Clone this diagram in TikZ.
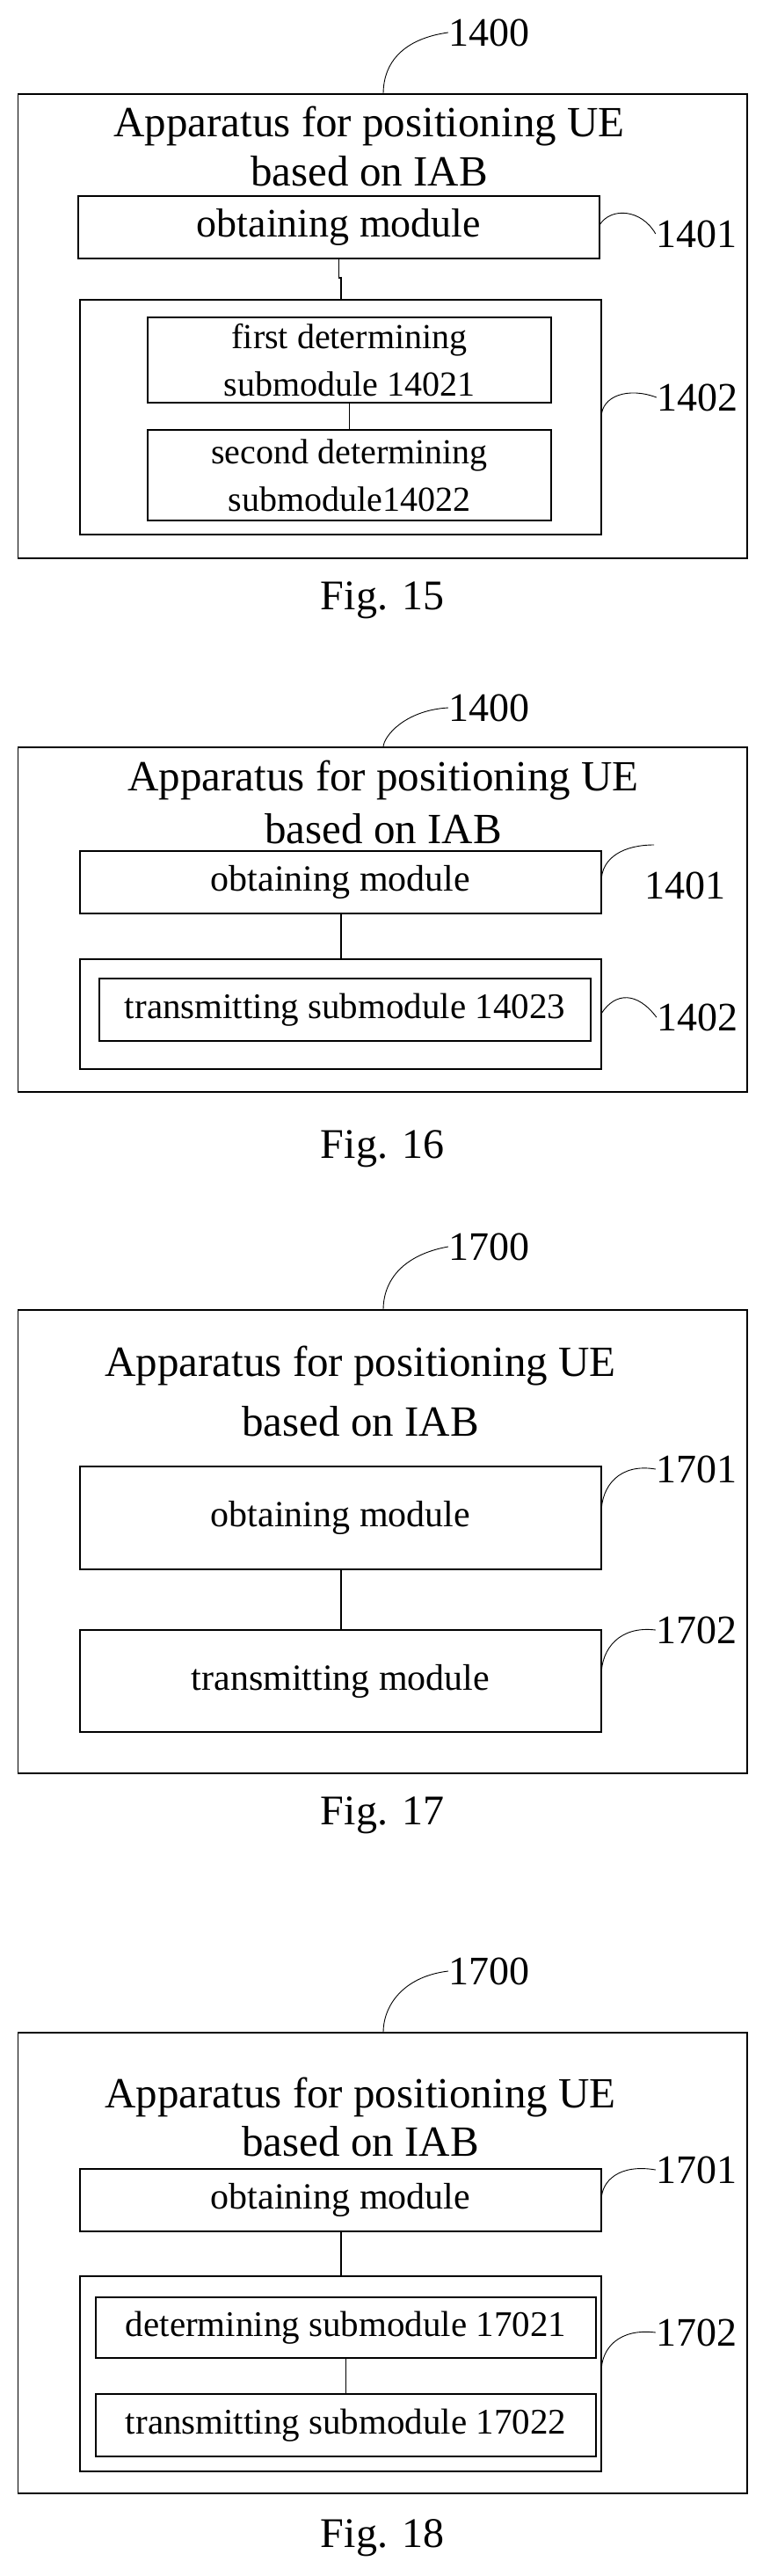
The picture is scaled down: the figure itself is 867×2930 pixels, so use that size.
\documentclass[tikz,border=0pt]{standalone}
\usepackage{fontspec}
\setmainfont{Liberation Serif}
\tikzset{
  box/.style={draw,line width=1.2pt,inner sep=0pt,outer sep=0pt,align=center},
  lead/.style={line width=0.9pt},
  num/.style={font=\fontsize{46}{46}\selectfont,inner sep=0pt},
  figcap/.style={font=\fontsize{48}{48}\selectfont,inner sep=0pt},
  ttl/.style={align=center,inner sep=0pt},
  f50/.style={font=\fontsize{46}{56}\selectfont},
  f43/.style={font=\fontsize{42}{55}\selectfont},
  f40/.style={font=\fontsize{40}{54}\selectfont},
  f42/.style={font=\fontsize{41}{50}\selectfont}
}
\begin{document}
\begin{tikzpicture}[x=1pt,y=-1pt]
\useasboundingbox (0,0) rectangle (867,2930);
% ---------- Fig 15 ----------
\node[box,minimum width=829.5pt,minimum height=528pt] (A) at (435.25,371) {};
\node[ttl,font=\fontsize{49}{56}\selectfont] (At) at (420,166) {Apparatus for positioning UE\\based on IAB};
\node[box,f50,minimum width=593pt,minimum height=71pt] (A1) at (385.5,258.5) {obtaining module};
\node[box,minimum width=593pt,minimum height=267pt] (A2) at (387.5,474.5) {};
\node[box,f40,minimum width=459pt,minimum height=97pt] (A21) at (397.5,409.5) {first determining\\submodule 14021};
\node[box,f40,minimum width=459pt,minimum height=103pt] (A22) at (397.5,540.5) {second determining\\submodule14022};
\coordinate (Aj1) at (385.5,316); \coordinate (Aj2) at (388,316);
\draw[line width=1.2pt] (A1.south) -- (Aj1) -- (Aj2) -- (Aj2 |- A2.north);
\draw[line width=1.2pt] (A21.south) -- (A22.north);
\node[num] (An) at (556,37) {1400};
\node[num] (An1) at (792,266) {1401};
\node[num] (An2) at (793,452) {1402};
\draw[lead] (A.north -| 436,0) .. controls (436,70) and (460,44) .. (An.west);
\draw[lead] (A1.east |- 0,256) .. controls (695,235) and (730,238) .. (An1.west);
\draw[lead] (A2.east |- 0,475) .. controls (684,450) and (715,440) .. (An2.west);
\node[figcap] (Af) at (435,683) {Fig. 15};
% ---------- Fig 16 ----------
\node[box,minimum width=829.5pt,minimum height=392pt] (B) at (435.25,1046) {};
\node[ttl,font=\fontsize{49}{60}\selectfont] (Bt) at (436,912) {Apparatus for positioning UE\\based on IAB};
\node[box,f43,minimum width=593pt,minimum height=71pt] (B1) at (387.5,1003.5) {obtaining module};
\node[box,minimum width=593pt,minimum height=125pt] (B2) at (387.5,1153.5) {};
\node[box,f42,minimum width=559pt,minimum height=71pt] (B21) at (392.5,1148.5) {transmitting submodule 14023};
\draw[line width=1.2pt] (B1.south -| 388,0) -- (B2.north -| 388,0);
\node[num] (Bn) at (556,805) {1400};
\node[num] (Bn1) at (779,1007) {1401};
\node[num] (Bn2) at (793,1157) {1402};
\draw[lead] (B.north -| 436,0) .. controls (436,838) and (460,808) .. (Bn.west);
\draw[lead] (B1.east |- 0,1003) .. controls (684,975) and (710,961) .. (744,961);
\draw[lead] (B2.east |- 0,1153) .. controls (700,1128) and (725,1128) .. (Bn2.west);
\node[figcap] (Bf) at (435,1307) {Fig. 16};
% ---------- Fig 17 ----------
\node[box,minimum width=829.5pt,minimum height=527pt] (C) at (435.25,1753.5) {};
\node[ttl,font=\fontsize{49}{68}\selectfont] (Ct) at (410,1582) {Apparatus for positioning UE\\based on IAB};
\node[box,f43,minimum width=593pt,minimum height=117pt] (C1) at (387.5,1726.5) {obtaining module};
\node[box,f43,minimum width=593pt,minimum height=116pt] (C2) at (387.5,1912) {transmitting module};
\draw[line width=1.2pt] (C1.south -| 388,0) -- (C2.north -| 388,0);
\node[num] (Cn) at (556,1418) {1700};
\node[num] (Cn1) at (792,1671) {1701};
\node[num] (Cn2) at (792,1854) {1702};
\draw[lead] (C.north -| 436,0) .. controls (436,1455) and (460,1427) .. (Cn.west);
\draw[lead] (C1.east |- 0,1721) .. controls (684,1690) and (705,1664) .. (Cn1.west);
\draw[lead] (C2.east |- 0,1906) .. controls (684,1875) and (705,1849) .. (Cn2.west);
\node[figcap] (Cf) at (435,2065) {Fig. 17};
% ---------- Fig 18 ----------
\node[box,minimum width=829.5pt,minimum height=524pt] (D) at (435.25,2574) {};
\node[ttl,font=\fontsize{49}{55}\selectfont] (Dt) at (410,2408) {Apparatus for positioning UE\\based on IAB};
\node[box,f43,minimum width=593pt,minimum height=71pt] (D1) at (387.5,2502.5) {obtaining module};
\node[box,minimum width=593pt,minimum height=222pt] (D2) at (387.5,2700) {};
\node[box,f42,minimum width=569pt,minimum height=69pt] (D21) at (393.5,2647.5) {determining submodule 17021};
\node[box,f42,minimum width=569pt,minimum height=71pt] (D22) at (393.5,2758.5) {transmitting submodule 17022};
\draw[line width=1.2pt] (D1.south -| 388,0) -- (D2.north -| 388,0);
\draw[line width=1.2pt] (D21.south) -- (D22.north);
\node[num] (Dn) at (556,2242) {1700};
\node[num] (Dn1) at (792,2468) {1701};
\node[num] (Dn2) at (792,2653) {1702};
\draw[lead] (D.north -| 436,0) .. controls (436,2280) and (460,2248) .. (Dn.west);
\draw[lead] (D1.east |- 0,2503) .. controls (684,2480) and (705,2461) .. (Dn1.west);
\draw[lead] (D2.east |- 0,2698) .. controls (684,2670) and (705,2648) .. (Dn2.west);
\node[figcap] (Df) at (435,2887) {Fig. 18};
\end{tikzpicture}
\end{document}
